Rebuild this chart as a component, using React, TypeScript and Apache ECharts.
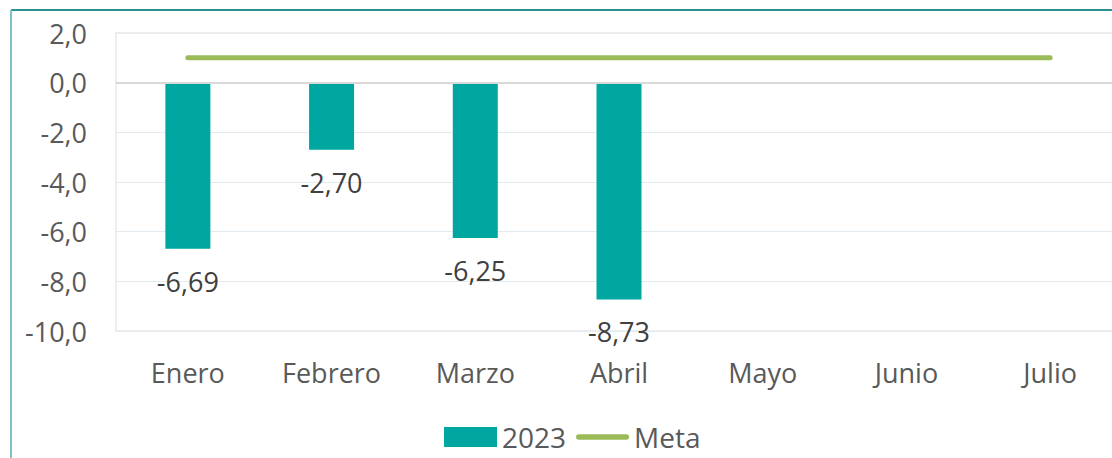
import React, { useEffect, useRef } from "react";
import * as echarts from "echarts";

const categories = ["Enero", "Febrero", "Marzo", "Abril", "Mayo", "Junio", "Julio"];
const values2023: (number | null)[] = [-6.69, -2.7, -6.25, -8.73, null, null, null];
const meta = [1, 1, 1, 1, 1, 1, 1];

export default function App() {
  const ref = useRef<HTMLDivElement>(null);
  useEffect(() => {
    if (!ref.current) return;
    const chart = echarts.init(ref.current, undefined, { renderer: "svg" });
    const font = "'Open Sans', 'Liberation Sans', sans-serif";
    chart.setOption({
      animation: false,
      textStyle: { fontFamily: font },
      grid: {
        left: 116,
        width: 1006,
        top: 33,
        bottom: 127,
        show: true,
        borderColor: "#eeeeee",
        borderWidth: 2,
        outerBoundsMode: "none",
        containLabel: false,
      },
      legend: {
        bottom: 2,
        left: 439,
        itemGap: 10,
        itemWidth: 53,
        itemHeight: 20,
        textStyle: { fontSize: 28, color: "#595959", fontFamily: font },
        data: [
          { name: "2023", icon: "rect" },
          { name: "Meta", icon: "path://M2.5,0 L47.5,0 A2.5,2.5 0 0 1 47.5,5 L2.5,5 A2.5,2.5 0 0 1 2.5,0 Z" },
        ],
      },
      xAxis: {
        type: "category",
        data: categories,
        axisLine: { show: false },
        axisTick: { show: false },
        axisLabel: { fontSize: 27, color: "#595959", margin: 28, fontFamily: font },
      },
      yAxis: {
        type: "value",
        min: -10,
        max: 2,
        interval: 2,
        axisLine: { show: false },
        axisTick: { show: false },
        splitLine: { lineStyle: { color: "#e3ebf1", width: 1 } },
        axisLabel: {
          fontSize: 27,
          color: "#595959",
          margin: 29,
          fontFamily: font,
          formatter: (v: number) => v.toFixed(1).replace(".", ","),
        },
      },
      graphic: [
        {
          type: "line",
          shape: { x1: 11, y1: 10, x2: 1112, y2: 10 },
          style: { stroke: "#2a9090", lineWidth: 2 },
        },
        {
          type: "line",
          shape: { x1: 11, y1: 10, x2: 11, y2: 458 },
          style: { stroke: "#7fc0c0", lineWidth: 2 },
        },
      ],
      series: [
        {
          name: "2023",
          type: "bar",
          data: values2023,
          barWidth: 45,
          itemStyle: { color: "#00A6A0" },
          label: {
            show: true,
            position: "bottom",
            distance: 19,
            fontSize: 27,
            color: "#404040",
            fontFamily: font,
            formatter: (p: any) => (p.value as number).toFixed(2).replace(".", ","),
          },
          markLine: {
            silent: true,
            symbol: "none",
            label: { show: false },
            lineStyle: { color: "#d9d9d9", width: 2, type: "solid" },
            data: [{ yAxis: 0 }],
          },
          z: 2,
        },
        {
          name: "Meta",
          type: "line",
          data: meta,
          symbol: "none",
          lineStyle: { color: "#9BBB59", width: 5, cap: "round" },
          itemStyle: { color: "#9BBB59" },
          z: 3,
        },
      ],
    });
    return () => chart.dispose();
  }, []);
  return (
    <div
      ref={ref}
      style={{ position: "fixed", left: 0, top: 0, width: 1112, height: 458, background: "#fff" }}
    />
  );
}
